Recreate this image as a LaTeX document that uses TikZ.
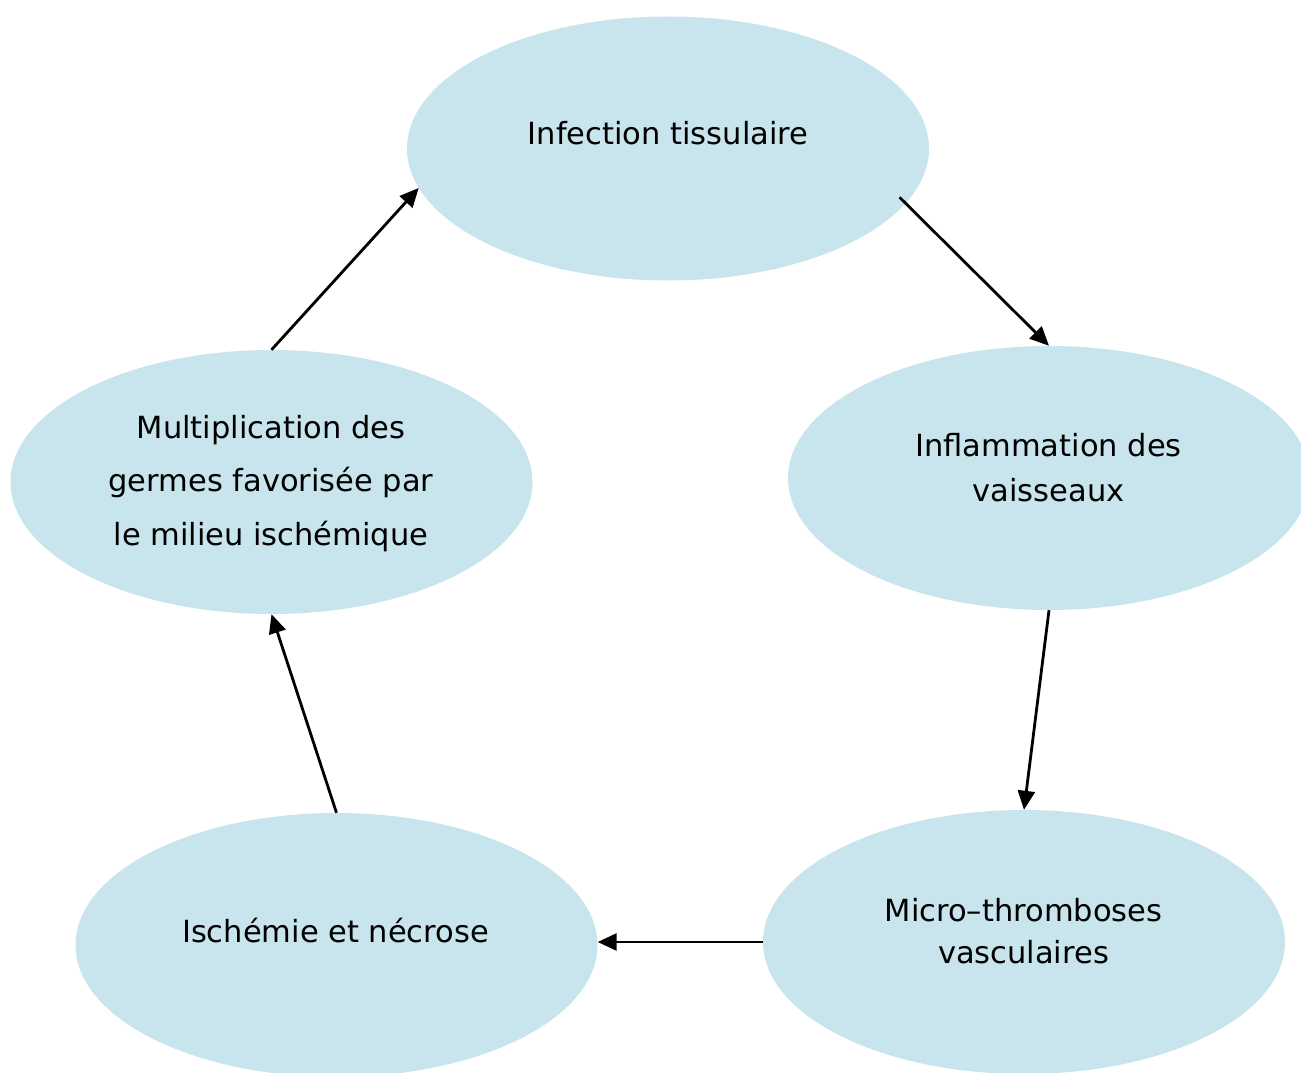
\documentclass[tikz,border=0pt]{standalone}
\usepackage{fontspec}
\setmainfont{DejaVu Sans}
\usetikzlibrary{shapes.geometric,arrows.meta}
\definecolor{bubble}{RGB}{200,228,236}
\tikzset{
  bubble/.style={ellipse, fill=bubble, draw=none, minimum width=522pt, minimum height=264pt, inner sep=0pt},
  lbl/.style={anchor=base, inner sep=0pt, align=center, text=black},
  flow/.style={line width=2.8pt, -{Triangle[length=19pt,width=17pt]}},
}
\begin{document}
\begin{tikzpicture}[x=1pt,y=-1pt]
\useasboundingbox (0,0) rectangle (1301,1073);
\begin{scope}
\clip (0,0) rectangle (1301,1073);
\node[bubble] (e1) at (668,148.5) {};
\node[bubble] (e2) at (1049,478) {};
\node[bubble] (e3) at (1024,942) {};
\node[bubble] (e4) at (336.5,945) {};
\node[bubble] (e5) at (271.5,482) {};
\end{scope}
\node[lbl, font=\fontsize{30.5}{36}\selectfont] (t1) at (668,144) {Infection tissulaire};
\node[lbl, font=\fontsize{30.5}{44.5}\selectfont] (t2) at (1048.5,501) {Inflammation des\\vaisseaux};
\node[lbl, font=\fontsize{30.5}{41.5}\selectfont] (t3) at (1023.5,963) {Micro–thromboses\\vasculaires};
\node[lbl, font=\fontsize{30.5}{36}\selectfont] (t4) at (335.5,942) {Ischémie et nécrose};
\node[lbl, font=\fontsize{30.5}{53.5}\selectfont] (t5) at (271,545) {Multiplication des\\germes favorisée par\\le milieu ischémique};
\draw[flow, shorten <=-8.5pt] (e1.-13.7) -- (e2.north);
\draw[flow] (e2.south) -- (e3.north);
\draw[flow] (e3.west) -- (e3.west -| e4.east);
\draw[flow] (e4.north) -- (e5.south);
\draw[flow] (e5.north) -- (e1.189);
\end{tikzpicture}
\end{document}
